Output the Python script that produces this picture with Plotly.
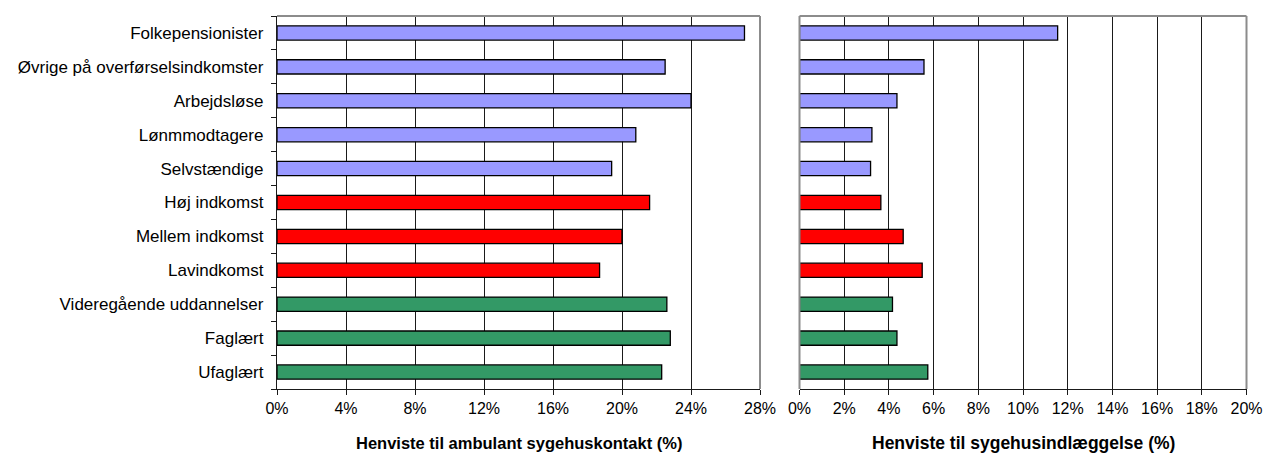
import plotly.graph_objects as go

categories = [
    "Folkepensionister",
    "Øvrige på overførselsindkomster",
    "Arbejdsløse",
    "Lønmmodtagere",
    "Selvstændige",
    "Høj indkomst",
    "Mellem indkomst",
    "Lavindkomst",
    "Videregående uddannelser",
    "Faglært",
    "Ufaglært",
]
ambulant = [27.1, 22.5, 24.0, 20.8, 19.4, 21.6, 20.0, 18.7, 22.6, 22.8, 22.3]
indlaeggelse = [11.55, 5.57, 4.36, 3.24, 3.18, 3.64, 4.64, 5.49, 4.16, 4.36, 5.74]
groups = ["socio"] * 5 + ["income"] * 3 + ["edu"] * 3
group_colors = {"socio": "#9999FF", "income": "#FF0000", "edu": "#339966"}
left_ticks = [0, 4, 8, 12, 16, 20, 24, 28]
right_ticks = [0, 2, 4, 6, 8, 10, 12, 14, 16, 18, 20]
left_title = "Henviste til ambulant sygehuskontakt (%)"
right_title = "Henviste til sygehusindlæggelse (%)"

colors = [group_colors[g] for g in groups]
W, H = 1268, 458
FONT = "Liberation Sans, Arial, sans-serif"

fig = go.Figure()
fig.add_trace(go.Bar(
    y=categories, x=ambulant, orientation="h", xaxis="x", yaxis="y",
    marker=dict(color=colors, line=dict(color="#000000", width=1.3)),
    width=0.42, hoverinfo="x+y", showlegend=False,
))
fig.add_trace(go.Bar(
    y=categories, x=indlaeggelse, orientation="h", xaxis="x2", yaxis="y2",
    marker=dict(color=colors, line=dict(color="#000000", width=1.3)),
    width=0.42, hoverinfo="x+y", showlegend=False,
))

l_dom = [277 / W, 760 / W]
r_dom = [799.5 / W, 1246.5 / W]

xcommon = dict(
    showgrid=True, gridcolor="#1a1a1a", gridwidth=1,
    showline=True, linecolor="#1a1a1a", linewidth=1.3,
    ticks="outside", ticklen=5, tickcolor="#1a1a1a", tickwidth=1.2,
    zeroline=False, fixedrange=True,
    tickfont=dict(family=FONT, size=16, color="#000000"),
)
fig.update_layout(
    width=W, height=H,
    margin=dict(l=0, r=0, t=16, b=69, autoexpand=False),
    paper_bgcolor="white", plot_bgcolor="white",
    font=dict(family=FONT, color="#000000"),
    xaxis=dict(domain=l_dom, range=[0, 28], tickvals=left_ticks,
               ticktext=[f"{v}%" for v in left_ticks], anchor="y", **xcommon),
    xaxis2=dict(domain=r_dom, range=[0, 20], tickvals=right_ticks,
                ticktext=[f"{v}%" for v in right_ticks], anchor="y2", **xcommon),
    yaxis=dict(
        domain=[0, 1], anchor="x", type="category", categoryorder="array",
        categoryarray=categories[::-1], automargin=False,
        showline=True, linecolor="#1a1a1a", linewidth=1.3,
        ticks="outside", ticklen=5, tickcolor="#1a1a1a", tickwidth=1.2,
        tickson="boundaries", ticklabelstandoff=9, showgrid=False,
        tickfont=dict(family=FONT, size=17, color="#000000"), fixedrange=True,
    ),
    yaxis2=dict(
        domain=[0, 1], anchor="x2", type="category", categoryorder="array",
        categoryarray=categories[::-1], showticklabels=False, showline=False,
        ticks="", showgrid=False, fixedrange=True,
    ),
)

gray = dict(color="#8c8c8c", width=2)
fig.add_shape(type="line", xref="x domain", yref="y domain", x0=0, x1=1, y0=1, y1=1, line=gray)
fig.add_shape(type="line", xref="x domain", yref="y domain", x0=1, x1=1, y0=0, y1=1, line=gray)
fig.add_shape(type="line", xref="x2 domain", yref="y2 domain", x0=0, x1=1, y0=1, y1=1, line=gray)
fig.add_shape(type="line", xref="x2 domain", yref="y2 domain", x0=0, x1=0, y0=0, y1=1, line=gray)
fig.add_shape(type="line", xref="x2 domain", yref="y2 domain", x0=1, x1=1, y0=0, y1=1, line=gray)

title_y = -54 / 373
fig.add_annotation(text="<b>" + left_title + "</b>", xref="x domain", yref="paper",
                   x=0.5, y=title_y, showarrow=False, yanchor="middle",
                   font=dict(family=FONT, size=16.5, color="#000000"))
fig.add_annotation(text="<b>" + right_title + "</b>", xref="x2 domain", yref="paper",
                   x=0.5, y=title_y, showarrow=False, yanchor="middle",
                   font=dict(family=FONT, size=17.5, color="#000000"))

fig.write_html("out.html", config={"displayModeBar": False},
               post_script="document.body.style.margin='0';document.body.style.overflow='hidden';")
